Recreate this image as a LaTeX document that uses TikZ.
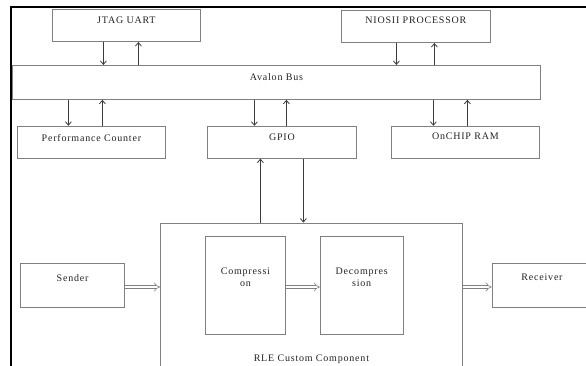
\documentclass[tikz,border=0pt]{standalone}
\usepackage{fontspec}
\usepackage{tikz}
\usetikzlibrary{arrows.meta,positioning,calc}
\newfontfamily\boxfont[LetterSpace=8]{Liberation Serif}
\definecolor{fontgray}{RGB}{34,34,34}
\definecolor{boxgray}{RGB}{128,128,128}
\definecolor{linkgray}{RGB}{60,60,60}

\begin{document}
\begin{tikzpicture}[x=1pt, y=-1pt, >={Straight Barb[length=3.5pt,width=6pt]},
	block/.style={draw=boxgray, line width=0.8pt, rectangle, inner sep=0pt, anchor=north west},
	title/.style={anchor=north, inner sep=0pt, text=fontgray, font=\boxfont\fontsize{10}{12}\selectfont, align=center},
	link/.style={line width=0.8pt, ->, color=linkgray},
	flow/.style={draw=boxgray, line width=0.6pt, double, double distance=2.6pt, -{Implies}},
	frame/.style={line width=2pt, color=black}
	]
	\path[use as bounding box, clip] (0,0) rectangle (586,366);
	\draw[frame] (10.5,366) -- (10.5,7) -- (586,7);
	
	\node[block, minimum width=528pt, minimum height=34pt, label={[title, yshift=-8pt, name=avalonlbl]north:Avalon Bus}] (avalon) at (12,65) {};
	\node[block, above right=23pt and 40pt of avalon.north west, minimum width=148pt, minimum height=32pt, label={[title, yshift=-7pt, name=jtaglbl]north:JTAG UART}] (jtag) {};
	\node[block, above right=22pt and 329pt of avalon.north west, minimum width=149pt, minimum height=32pt, label={[title, yshift=-6pt, name=nioslbl]north:NIOSII PROCESSOR}] (nios) {};
	
	\node[block, below right=26pt and 5pt of avalon.south west, minimum width=148pt, minimum height=32pt, label={[title, yshift=-8pt, name=perflbl]north:Performance Counter}] (perf) {};
	\node[block, below right=26pt and 195pt of avalon.south west, minimum width=149pt, minimum height=32pt, label={[title, yshift=-8pt, name=gpiolbl]north:GPIO}] (gpio) {};
	\node[block, below right=26pt and 379pt of avalon.south west, minimum width=148pt, minimum height=32pt, label={[title, yshift=-7pt, name=ramlbl]north:OnCHIP RAM}] (ram) {};
	
	\draw [link] ([xshift=-23pt]jtag.south) -- ([xshift=-23pt]jtag.south |- avalon.north);
	\draw [link] ([xshift=12pt]jtag.south |- avalon.north) -- ([xshift=12pt]jtag.south);
	\draw [link] ([xshift=-19.5pt]nios.south) -- ([xshift=-19.5pt]nios.south |- avalon.north);
	\draw [link] ([xshift=18.5pt]nios.south |- avalon.north) -- ([xshift=18.5pt]nios.south);
	\draw [link] ([xshift=-23pt]perf.north |- avalon.south) -- ([xshift=-23pt]perf.north);
	\draw [link] ([xshift=11pt]perf.north) -- ([xshift=11pt]perf.north |- avalon.south);
	\draw [link] ([xshift=-27.5pt]gpio.north |- avalon.south) -- ([xshift=-27.5pt]gpio.north);
	\draw [link] ([xshift=4.5pt]gpio.north) -- ([xshift=4.5pt]gpio.north |- avalon.south);
	\draw [link] ([xshift=-32pt]ram.north |- avalon.south) -- ([xshift=-32pt]ram.north);
	\draw [link] ([xshift=2pt]ram.north) -- ([xshift=2pt]ram.north |- avalon.south);
	
	\node[block, below right=64pt and -47pt of gpio.south west, minimum width=302pt, minimum height=144pt, label={[title, anchor=south, yshift=4pt, name=rlelbl]south:RLE Custom Component}] (rle) {};
	\node[block, below right=13pt and 45pt of rle.north west, minimum width=80pt, minimum height=98pt, label={[title, yshift=-32pt, name=complbl]north:{Compressi\\on}}] (comp) {};
	\node[block, right=34pt of comp, anchor=west, minimum width=83pt, minimum height=98pt, label={[title, yshift=-32pt, name=decomplbl]north:{Decompres\\sion}}] (decomp) {};
	\node[block, left=80pt of comp, anchor=east, minimum width=104pt, minimum height=44pt, label={[title, yshift=-12pt, name=senderlbl]north:Sender}] (sender) {};
	\node[block, right=88pt of decomp, anchor=west, minimum width=100pt, minimum height=44pt, label={[title, yshift=-11pt, name=receiverlbl]north:Receiver}] (receiver) {};
	
	\draw [link] ([xshift=-21.5pt]gpio.south |- rle.north) -- ([xshift=-21.5pt]gpio.south);
	\draw [link] ([xshift=21.5pt]gpio.south) -- ([xshift=21.5pt]gpio.south |- rle.north);
	
	\draw [flow] ([yshift=-2pt]sender.east) -- ([yshift=-2pt]sender.east -| rle.west);
	\draw [flow] ([yshift=-2pt]comp.east) -- ([yshift=-2pt]decomp.west);
	\draw [flow] ([yshift=-2pt]receiver.west -| rle.east) -- ([yshift=-2pt]receiver.west);
\end{tikzpicture}
\end{document}
